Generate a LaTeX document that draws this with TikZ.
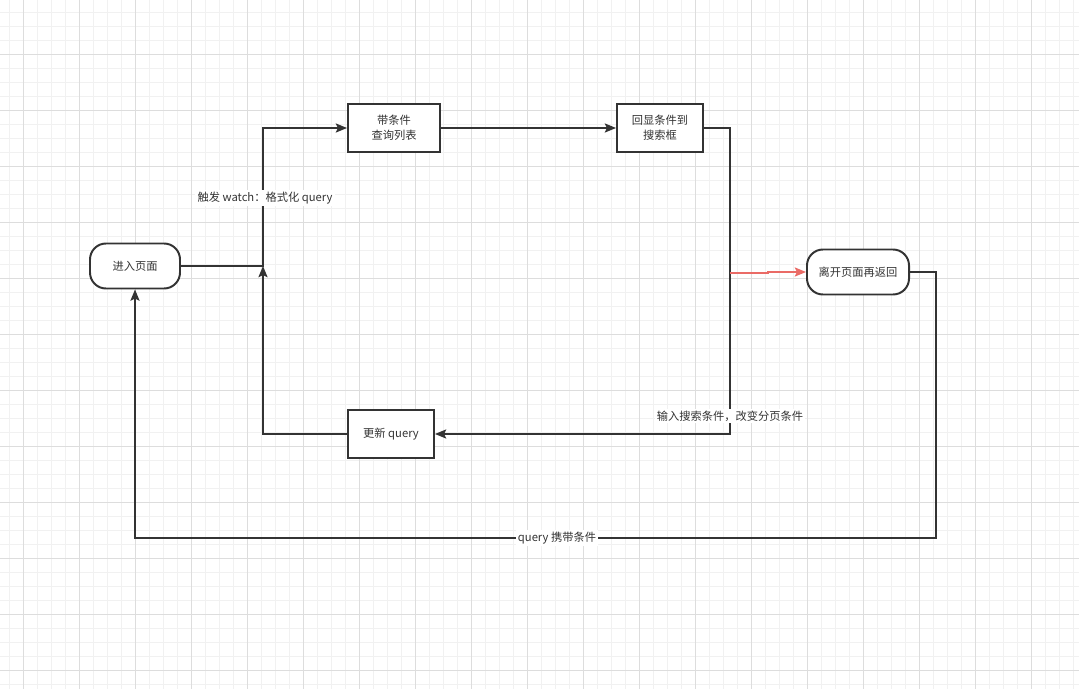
\documentclass[tikz,border=0pt]{standalone}
\usepackage{fontspec}
\setmainfont{Noto Sans CJK SC}
\usetikzlibrary{arrows.meta}
\definecolor{ink}{HTML}{333333}
\definecolor{gridminor}{HTML}{F1F1F1}
\definecolor{gridmajor}{HTML}{DDDDDD}
\definecolor{redline}{HTML}{EA6B66}

\begin{document}
\begin{tikzpicture}[x=0.025cm, y=-0.025cm, font=\fontsize{8}{10.5}\selectfont, text=ink,
    box/.style={rectangle, draw=ink, line width=1.4pt, fill=white, align=center, minimum height=1.2cm},
    pill/.style={rectangle, rounded corners=0.4cm, draw=ink, line width=1.4pt, fill=white, minimum height=1.125cm},
    link/.style={draw=ink, line width=1.1pt, -{Stealth[length=8pt, width=6.5pt, inset=1.5pt]}},
    tag/.style={fill=white, inner sep=1.5pt}]
    \useasboundingbox (0,0) rectangle (1079,689);
    \fill[white] (0,0) rectangle (1079,689);

    % Background grid
    \foreach \x in {9.3,23.3,...,1079} {
        \draw[gridminor, line width=0.7pt] (\x,0) -- (\x,689);
    }
    \foreach \y in {12,26,...,689} {
        \draw[gridminor, line width=0.7pt] (0,\y) -- (1079,\y);
    }
    \foreach \x in {23.3,79.3,...,1079} {
        \draw[gridmajor, line width=0.7pt] (\x,0) -- (\x,689);
    }
    \foreach \y in {54,110,...,689} {
        \draw[gridmajor, line width=0.7pt] (0,\y) -- (1079,\y);
    }

    % Steps
    \node[pill, minimum width=2.25cm] (enter) at (135,266) {进入页面};
    \node[box, minimum width=2.3cm] (query) at (394,128) {带条件\\查询列表};
    \node[box, minimum width=2.15cm] (echo) at (660,128) {回显条件到\\搜索框};
    \node[pill, minimum width=2.55cm] (leave) at (858,272) {离开页面再返回};
    \node[box, minimum width=2.15cm] (update) at (391,434) {更新 query};

    % Bend points
    \coordinate (join) at (263,266);
    \coordinate (split) at (730,273);

    % Flow
    \draw[link] (enter.east) -- (join) |- (query.west);
    \draw[link] (query.east) -- (echo.west);
    \draw[link] (echo.east) -| (730,434) -- (update.east);
    \draw[link] (update.west) -| (join);
    \draw[link, draw=redline, fill=redline] (split) -- (768,273) -- (768,272) -- (leave.west);
    \draw[link] (leave.east) -| (936,538) -| (enter.south);

    % Labels
    \node[tag] (watchtag) at (265,198) {触发 watch：格式化 query};
    \node[tag] (inputtag) at (730,416) {输入搜索条件，改变分页条件};
    \node[tag] (backtag) at (557,538) {query 携带条件};
\end{tikzpicture}
\end{document}
